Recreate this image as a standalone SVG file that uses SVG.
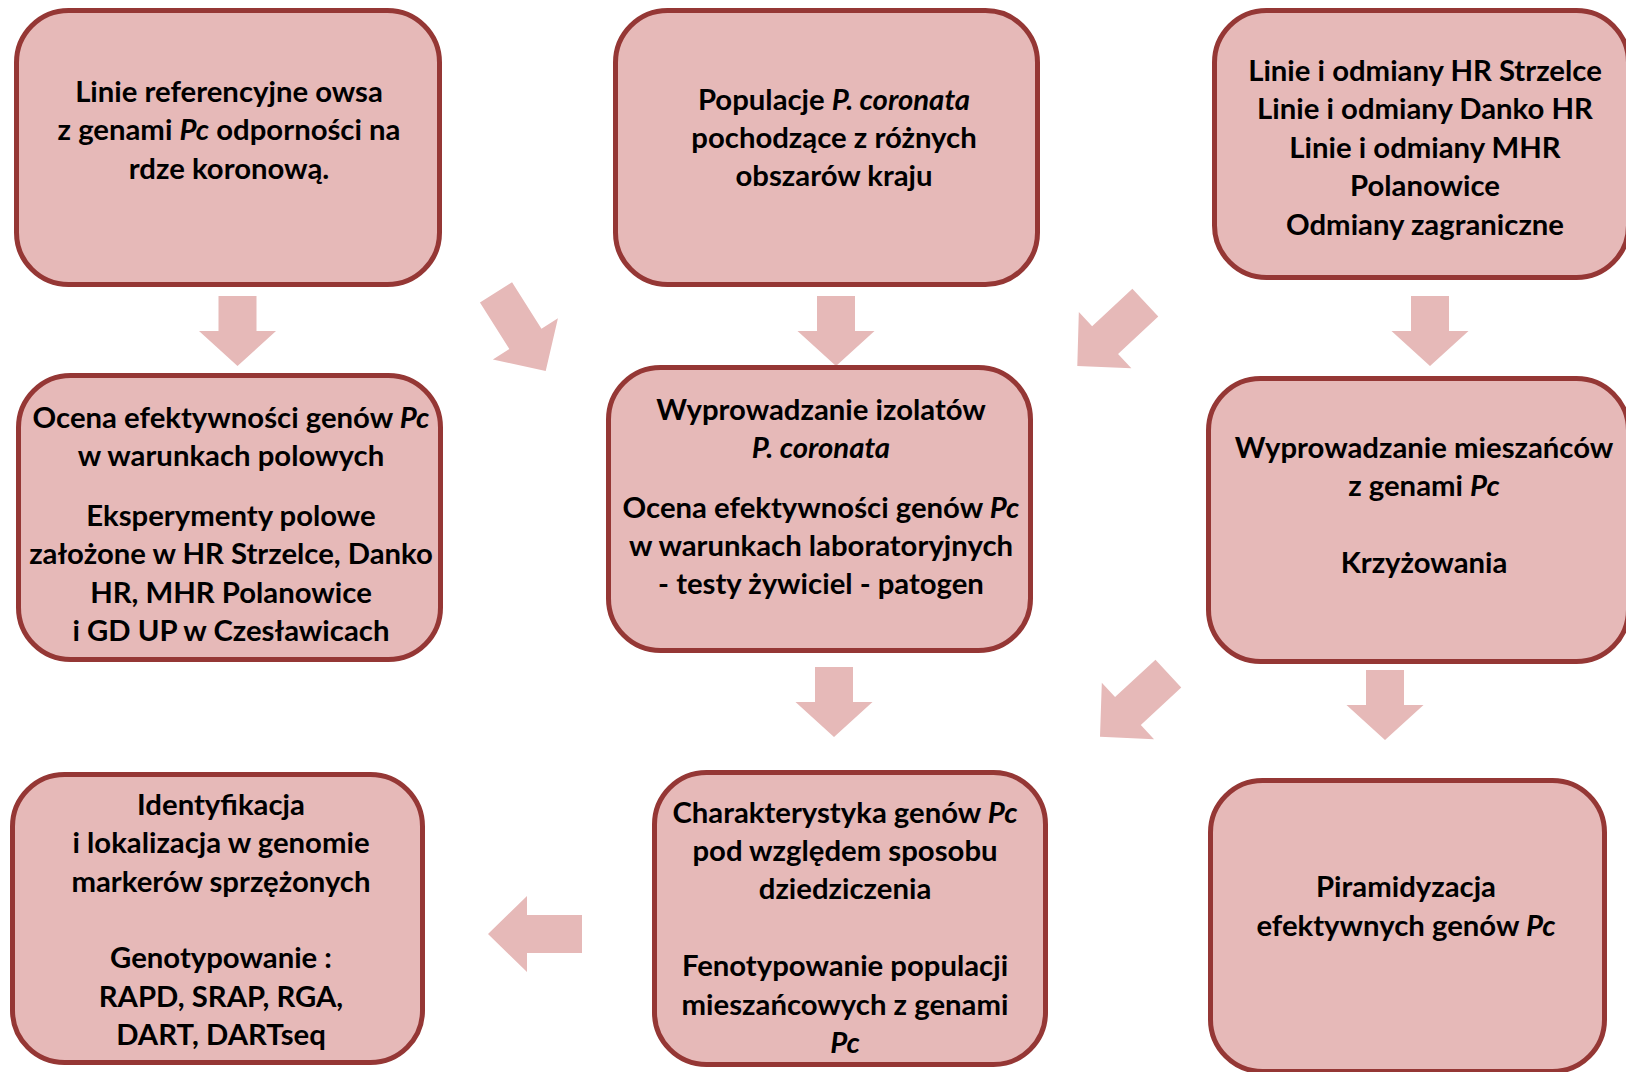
<svg xmlns="http://www.w3.org/2000/svg" width="1626" height="1072" viewBox="0 0 1626 1072">
<style>
.box{fill:#E6B9B8;stroke:#953735;stroke-width:5}
.arr{fill:#E6B9B8;stroke:none}
text{font-family:Lato,"Open Sans","Liberation Sans",sans-serif;font-weight:bold;font-size:29.3px;fill:#000;text-anchor:middle}
.i{font-style:italic}
</style>
<defs>
<path id="down" d="M-19,-70 L19,-70 L19,-35 L38.5,-35 L0,0 L-38.5,-35 L-19,-35 Z"/>
<path id="diag" d="M-19,-93 L19,-93 L19,-38 L38.5,-38 L0,0 L-38.5,-38 L-19,-38 Z"/>
</defs>
<rect width="1626" height="1072" fill="#fff"/>
<g id="connectors" class="arr">
<use href="#down" transform="translate(237.5,366)"/>
<use href="#down" transform="translate(836,366)"/>
<use href="#down" transform="translate(1430,366)"/>
<use href="#down" transform="translate(834,737)"/>
<use href="#down" transform="translate(1385,740)"/>
<use href="#diag" transform="translate(545.7,371) rotate(-32.3)"/>
<use href="#diag" transform="translate(1077.3,366) rotate(47)"/>
<use href="#diag" transform="translate(1100,736.7) rotate(47.3)"/>
<path d="M488,934 L527,896 L527,915 L582,915 L582,953 L527,953 L527,972 Z"/>
</g>
<g id="n1">
<rect class="box" x="16.5" y="10.5" width="423" height="274" rx="52"/>
<text x="229" y="101.5">Linie referencyjne owsa</text>
<text x="229" y="140">z genami <tspan class="i">Pc</tspan> odporności na</text>
<text x="229" y="178.5">rdze koronową.</text>
</g>
<g id="n2">
<rect class="box" x="615.5" y="10.5" width="422" height="274" rx="52"/>
<text x="834" y="109.5">Populacje <tspan class="i">P. coronata</tspan></text>
<text x="834" y="148">pochodzące z różnych</text>
<text x="834" y="186">obszarów kraju</text>
</g>
<g id="n3">
<rect class="box" x="1214.5" y="10.5" width="414" height="267" rx="52"/>
<text x="1425" y="80.5">Linie i odmiany HR Strzelce</text>
<text x="1425" y="119">Linie i odmiany Danko HR</text>
<text x="1425" y="157.5">Linie i odmiany MHR</text>
<text x="1425" y="196">Polanowice</text>
<text x="1425" y="234.5">Odmiany zagraniczne</text>
</g>
<g id="n4">
<rect class="box" x="18.5" y="375.5" width="422" height="284" rx="52"/>
<text x="231" y="427.5">Ocena efektywności genów <tspan class="i">Pc</tspan></text>
<text x="231" y="465.5">w warunkach polowych</text>
<text x="231" y="526">Eksperymenty polowe</text>
<text x="231" y="564">założone w HR Strzelce, Danko</text>
<text x="231" y="602.5">HR, MHR Polanowice</text>
<text x="231" y="641">i GD UP w Czesławicach</text>
</g>
<g id="n5">
<rect class="box" x="608.5" y="367.5" width="422" height="283" rx="52"/>
<text x="821" y="419.5">Wyprowadzanie izolatów</text>
<text x="821" y="457.5"><tspan class="i">P. coronata</tspan></text>
<text x="821" y="518">Ocena efektywności genów <tspan class="i">Pc</tspan></text>
<text x="821" y="556">w warunkach laboratoryjnych</text>
<text x="821" y="594">- testy żywiciel - patogen</text>
</g>
<g id="n6">
<rect class="box" x="1208.5" y="378.5" width="420" height="283" rx="52"/>
<text x="1424" y="457.5">Wyprowadzanie mieszańców</text>
<text x="1424" y="496">z genami <tspan class="i">Pc</tspan></text>
<text x="1424" y="572.5">Krzyżowania</text>
</g>
<g id="n7">
<rect class="box" x="12.5" y="774.5" width="410" height="288" rx="52"/>
<text x="221" y="814.5">Identyfikacja</text>
<text x="221" y="853">i lokalizacja w genomie</text>
<text x="221" y="891.5">markerów sprzężonych</text>
<text x="221" y="968">Genotypowanie :</text>
<text x="221" y="1006.5">RAPD, SRAP, RGA,</text>
<text x="221" y="1045">DART, DARTseq</text>
</g>
<g id="n8">
<rect class="box" x="654.5" y="772.5" width="391" height="292" rx="52"/>
<text x="845" y="822.5">Charakterystyka genów <tspan class="i">Pc</tspan></text>
<text x="845" y="860.5">pod względem sposobu</text>
<text x="845" y="899">dziedziczenia</text>
<text x="845" y="976">Fenotypowanie populacji</text>
<text x="845" y="1014.5">mieszańcowych z genami</text>
<text x="845" y="1053"><tspan class="i">Pc</tspan></text>
</g>
<g id="n9">
<rect class="box" x="1210.5" y="780.5" width="394" height="291" rx="52"/>
<text x="1406" y="896.5">Piramidyzacja</text>
<text x="1406" y="935.5">efektywnych genów <tspan class="i">Pc</tspan></text>
</g>
</svg>
